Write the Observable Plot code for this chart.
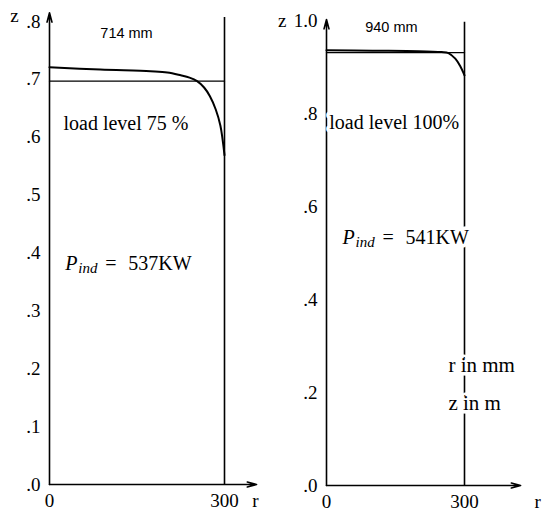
<!DOCTYPE html>
<html><head><meta charset="utf-8">
<script src="https://cdn.jsdelivr.net/npm/d3@7"></script>
<script src="https://cdn.jsdelivr.net/npm/@observablehq/plot@0.6"></script>
<style>
body{margin:0;background:#fff}
#wrap{display:flex;width:542px;height:512px;overflow:hidden}
#wrap svg{display:block}
#wrap text.wide{letter-spacing:0.6px}
</style>
</head><body><div id="wrap"></div>
<script>
// ---- data: left panel (load level 75 %) ----
const leftCurveR = [0, 87, 173, 202, 225, 240, 253, 265, 275, 285, 293, 300];
const leftCurveZ = [0.721, 0.717, 0.714, 0.712, 0.707, 0.703, 0.697, 0.686, 0.671, 0.648, 0.620, 0.569];
const leftFlatR = [0, 300];
const leftFlatZ = [0.697, 0.697];
const leftYTicks = [0, 0.1, 0.2, 0.3, 0.4, 0.5, 0.6, 0.7, 0.8];
const leftYLabels = [".0", ".1", ".2", ".3", ".4", ".5", ".6", ".7", ".8"];
// ---- data: right panel (load level 100 %) ----
const rightCurveR = [0, 100, 200, 250, 265, 280, 290, 300];
const rightCurveZ = [0.936, 0.935, 0.934, 0.932, 0.930, 0.918, 0.903, 0.882];
const rightFlatR = [0, 300];
const rightFlatZ = [0.931, 0.931];
const rightYTicks = [0, 0.2, 0.4, 0.6, 0.8, 1.0];
const rightYLabels = [".0", ".2", ".4", ".6", ".8", "1.0"];
// ---- shared ----
const xTicks = [0, 300];
const xLabels = ["0", "300"];
const wallR = 300;

const SERIF = "'Liberation Serif', 'DejaVu Serif', serif";
const SANS = "'Liberation Sans', 'DejaVu Sans', sans-serif";

function panel(cfg) {
  const curve = cfg.curveR.map((r, i) => ({r, z: cfg.curveZ[i]}));
  const flat = cfg.flatR.map((r, i) => ({r, z: cfg.flatZ[i]}));
  const halo = {stroke: "white", strokeWidth: 7, paintOrder: "stroke", fill: "black", className: "wide"};
  return Plot.plot({
    width: 271, height: 512,
    marginLeft: cfg.xRange[0], marginRight: 271 - cfg.xRange[1],
    marginTop: cfg.yRange[1], marginBottom: 512 - cfg.yRange[0],
    style: {fontFamily: SERIF, fontSize: "19px", background: "white", color: "black", overflow: "visible"},
    x: {domain: [0, 300], range: cfg.xRange},
    y: {domain: cfg.yDomain, range: cfg.yRange},
    marks: [
      // axes with arrowheads
      Plot.arrow([{a: 0}], {x1: 0, y1: 0, x2: cfg.axisRMax, y2: 0, stroke: "black", strokeWidth: 1.6, headLength: 9, headAngle: 30}),
      Plot.arrow([{a: 0}], {x1: 0, y1: 0, x2: 0, y2: cfg.axisZMax, stroke: "black", strokeWidth: 1.6, headLength: 9, headAngle: 30}),
      // wall line at r = 300
      Plot.ruleX([wallR], {y1: 0, y2: cfg.wallTop, stroke: "black", strokeWidth: 1.6}),
      // free surface lines
      Plot.line(flat, {x: "r", y: "z", stroke: "black", strokeWidth: 1.4}),
      Plot.line(curve, {x: "r", y: "z", stroke: "black", strokeWidth: 2, curve: "catmull-rom"}),
      // tick labels
      Plot.axisY(cfg.yTicks, {tickSize: 0, tickPadding: cfg.yPad, tickFormat: d => cfg.yLabels[cfg.yTicks.indexOf(d)], fontSize: 19, label: null}),
      Plot.axisX(xTicks, {tickSize: 0, tickPadding: 9, tickFormat: d => xLabels[xTicks.indexOf(d)], fontSize: 19, label: null}),
      // axis names
      Plot.text(["r"], {x: cfg.rLabelR, y: 0, dy: 16, text: d => d, fontSize: 19, textAnchor: "middle"}),
      Plot.text(["z"], {x: cfg.zLabel[0], y: cfg.zLabel[1], text: d => d, fontSize: 19, textAnchor: "middle"}),
      // annotations
      Plot.text([cfg.diam], {x: cfg.diamPos[0], y: cfg.diamPos[1], text: d => d, fontFamily: SANS, fontSize: 14.5, textAnchor: "middle"}),
      Plot.text([cfg.load], {x: cfg.loadPos[0], y: cfg.loadPos[1], text: d => d, fontSize: 20, textAnchor: "start", ...halo}),
      Plot.text(["P"], {x: cfg.pPos[0], y: cfg.pPos[1], text: d => d, fontSize: 20, fontStyle: "italic", textAnchor: "start", fill: "black"}),
      Plot.text(["ind"], {x: cfg.pPos[0], y: cfg.pPos[1], dx: 13, dy: 5, text: d => d, fontSize: 15, fontStyle: "italic", textAnchor: "start", fill: "black"}),
      Plot.text(["="], {x: cfg.pPos[0], y: cfg.pPos[1], dx: 40, text: d => d, fontSize: 20, textAnchor: "start", fill: "black"}),
      Plot.text([cfg.power], {x: cfg.pPos[0], y: cfg.pPos[1], dx: 63, text: d => d, fontSize: 20, textAnchor: "start", ...halo}),
      ...(cfg.units ? [
        Plot.text([cfg.units[0]], {x: cfg.unitPos[0], y: cfg.unitPos[1], text: d => d, fontSize: 21, textAnchor: "start", ...halo}),
        Plot.text([cfg.units[1]], {x: cfg.unitPos[0], y: cfg.unitPos[2], text: d => d, fontSize: 21, textAnchor: "start", ...halo})
      ] : [])
    ]
  });
}

const wrap = document.getElementById("wrap");
wrap.appendChild(panel({
  curveR: leftCurveR, curveZ: leftCurveZ, flatR: leftFlatR, flatZ: leftFlatZ,
  yTicks: leftYTicks, yLabels: leftYLabels, yDomain: [0, 0.8],
  xRange: [49, 224], yRange: [484, 21], yPad: 9,
  axisRMax: 355, axisZMax: 0.815, wallTop: 0.807,
  rLabelR: 353, zLabel: [-60, 0.81],
  diam: "714 mm", diamPos: [132, 0.779],
  load: "load level 75 %", loadPos: [24, 0.624],
  power: "537KW", pPos: [27, 0.382]
}));
wrap.appendChild(panel({
  curveR: rightCurveR, curveZ: rightCurveZ, flatR: rightFlatR, flatZ: rightFlatZ,
  yTicks: rightYTicks, yLabels: rightYLabels, yDomain: [0, 1.0],
  xRange: [55, 193], yRange: [485, 20], yPad: 9,
  axisRMax: 422, axisZMax: 1.002, wallTop: 0.996,
  rLabelR: 459, zLabel: [-96, 1.0],
  diam: "940 mm", diamPos: [141, 0.985],
  load: "load level 100%", loadPos: [6, 0.781],
  power: "541KW", pPos: [35, 0.533],
  units: ["r in mm", "z in m"], unitPos: [265, 0.258, 0.176]
}));
</script>
</body></html>
